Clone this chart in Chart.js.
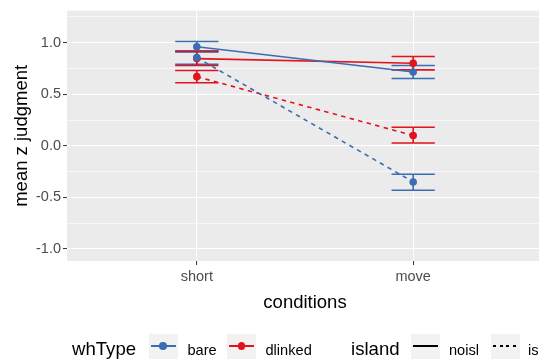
<!DOCTYPE html>
<html>
<head>
<meta charset="utf-8">
<script src="https://cdn.jsdelivr.net/npm/chart.js@4.4.1/dist/chart.umd.min.js"></script>
<style>
  html, body { margin: 0; padding: 0; background: #fff; overflow: hidden; }
  #wrap { position: relative; width: 547px; height: 360px; }
  .lg { position: absolute; font-family: "Liberation Sans", Arial, sans-serif; white-space: nowrap; color: #000; line-height: 1; }
  .title { font-size: 18.6px; top: 340px; }
  .item { font-size: 14.6px; top: 343px; }
  .key { position: absolute; top: 334px; width: 29px; height: 25px; background: #F2F2F2; }
  .key .ln { position: absolute; left: 2px; right: 2px; top: 11px; height: 1.6px; }
  .key .dot { position: absolute; left: 10.7px; top: 8px; width: 7.6px; height: 7.6px; border-radius: 50%; }
</style>
</head>
<body>
<div id="wrap">
  <canvas id="chart" width="547" height="360"></canvas>

  <div class="lg title" style="left:72px">whType</div>
  <div class="key" style="left:148.5px"><div class="ln" style="background:#3A6DB2"></div><div class="dot" style="background:#3A6DB2"></div></div>
  <div class="lg item" style="left:187.5px">bare</div>
  <div class="key" style="left:227px"><div class="ln" style="background:#E3121D"></div><div class="dot" style="background:#E3121D"></div></div>
  <div class="lg item" style="left:265.5px">dlinked</div>

  <div class="lg title" style="left:351px">island</div>
  <div class="key" style="left:411px"><div class="ln" style="background:#000"></div></div>
  <div class="lg item" style="left:449px">noisl</div>
  <div class="key" style="left:490.5px"><div class="ln" style="background:repeating-linear-gradient(to right,#000 0 3.3px,transparent 3.3px 6.6px)"></div></div>
  <div class="lg item" style="left:528px">isl</div>
</div>

<script>
// 条件
const conditions = ['short', 'move'];
const xPos = [1, 2];

// bare / noisl
const bareNoisl = [0.96, 0.715];
const bareNoislLo = [0.91, 0.652];
const bareNoislHi = [1.01, 0.778];
// bare / isl
const bareIsl = [0.855, -0.35];
const bareIslLo = [0.79, -0.43];
const bareIslHi = [0.92, -0.275];
// dlinked / noisl
const dlinkedNoisl = [0.845, 0.80];
const dlinkedNoislLo = [0.778, 0.736];
const dlinkedNoislHi = [0.913, 0.865];
// dlinked / isl
const dlinkedIsl = [0.67, 0.10];
const dlinkedIslLo = [0.611, 0.027];
const dlinkedIslHi = [0.729, 0.18];

// y軸の目盛り（0.25刻み、0.5刻みがメジャー）
const yTicks = [-1, -0.75, -0.5, -0.25, 0, 0.25, 0.5, 0.75, 1, 1.25];

const BLUE = '#3A6DB2';
const RED = '#E3121D';

const series = [
  { label: 'bare noisl', color: BLUE, dash: [], mean: bareNoisl, lo: bareNoislLo, hi: bareNoislHi },
  { label: 'bare isl', color: BLUE, dash: [4.4, 4.4], mean: bareIsl, lo: bareIslLo, hi: bareIslHi },
  { label: 'dlinked noisl', color: RED, dash: [], mean: dlinkedNoisl, lo: dlinkedNoislLo, hi: dlinkedNoislHi },
  { label: 'dlinked isl', color: RED, dash: [4.4, 4.4], mean: dlinkedIsl, lo: dlinkedIslLo, hi: dlinkedIslHi }
];

const isMajor = v => Math.abs(v * 2 - Math.round(v * 2)) < 1e-9;

// パネル背景
const panelBg = {
  id: 'panelBg',
  beforeDraw(chart) {
    const { ctx, chartArea: a } = chart;
    ctx.save();
    ctx.fillStyle = '#EBEBEB';
    ctx.fillRect(a.left, a.top, a.right - a.left, a.bottom - a.top);
    ctx.restore();
  }
};

// エラーバー（幅0.2）
const errorBars = {
  id: 'errorBars',
  beforeDatasetsDraw(chart) {
    const { ctx, scales: { x, y } } = chart;
    ctx.save();
    ctx.lineWidth = 1.6;
    ctx.setLineDash([]);
    series.forEach(s => {
      ctx.strokeStyle = s.color;
      xPos.forEach((xv, i) => {
        const xl = x.getPixelForValue(xv - 0.1);
        const xr = x.getPixelForValue(xv + 0.1);
        const xc = x.getPixelForValue(xv);
        const yl = y.getPixelForValue(s.lo[i]);
        const yh = y.getPixelForValue(s.hi[i]);
        ctx.beginPath();
        ctx.moveTo(xl, yh); ctx.lineTo(xr, yh);
        ctx.moveTo(xl, yl); ctx.lineTo(xr, yl);
        ctx.moveTo(xc, yh); ctx.lineTo(xc, yl);
        ctx.stroke();
      });
    });
    ctx.restore();
  }
};

new Chart(document.getElementById('chart').getContext('2d'), {
  type: 'scatter',
  data: {
    datasets: series.map(s => ({
      label: s.label,
      data: xPos.map((xv, i) => ({ x: xv, y: s.mean[i] })),
      showLine: true,
      borderColor: s.color,
      borderDash: s.dash,
      borderWidth: 1.6,
      backgroundColor: s.color,
      pointRadius: 3.8,
      pointBorderWidth: 0,
      pointBackgroundColor: s.color
    }))
  },
  options: {
    responsive: false,
    animation: false,
    devicePixelRatio: 1,
    layout: { padding: { top: 10, left: 0, right: 0, bottom: 46 } },
    font: { family: '"Liberation Sans", Arial, sans-serif' },
    scales: {
      x: {
        type: 'linear',
        min: 0.4,
        max: 2.6,
        afterBuildTicks: scale => { scale.ticks = xPos.map(v => ({ value: v })); },
        afterFit: scale => { scale.height = 53; },
        ticks: {
          callback: v => conditions[xPos.indexOf(v)] || '',
          color: '#4D4D4D',
          font: { size: 14.5, family: '"Liberation Sans", Arial, sans-serif' },
          padding: 3,
          maxRotation: 0,
          autoSkip: false
        },
        grid: { color: '#FFFFFF', lineWidth: 1.1, tickColor: '#333333', tickLength: 4, tickWidth: 1 },
        border: { display: false },
        title: {
          display: true,
          text: 'conditions',
          color: '#000',
          font: { size: 18.5, family: '"Liberation Sans", Arial, sans-serif' },
          padding: { top: 0, bottom: 0 }
        }
      },
      y: {
        min: -1.116,
        max: 1.309,
        afterBuildTicks: scale => { scale.ticks = yTicks.map(v => ({ value: v })); },
        afterFit: scale => { scale.width = 67; },
        ticks: {
          callback: v => (isMajor(v) ? v.toFixed(1) : ''),
          color: '#4D4D4D',
          font: { size: 14.5, family: '"Liberation Sans", Arial, sans-serif' },
          padding: 2,
          autoSkip: false
        },
        grid: {
          color: '#FFFFFF',
          lineWidth: c => (isMajor(c.tick.value) ? 1.1 : 0.55),
          tickColor: c => (isMajor(c.tick.value) ? '#333333' : 'rgba(0,0,0,0)'),
          tickLength: 4,
          tickWidth: 1
        },
        border: { display: false },
        title: {
          display: true,
          text: 'mean z judgment',
          color: '#000',
          font: { size: 18.5, family: '"Liberation Sans", Arial, sans-serif' },
          padding: { top: 11, bottom: 0 }
        }
      }
    },
    plugins: { legend: { display: false }, tooltip: { enabled: false } }
  },
  plugins: [panelBg, errorBars]
});
</script>
</body>
</html>
